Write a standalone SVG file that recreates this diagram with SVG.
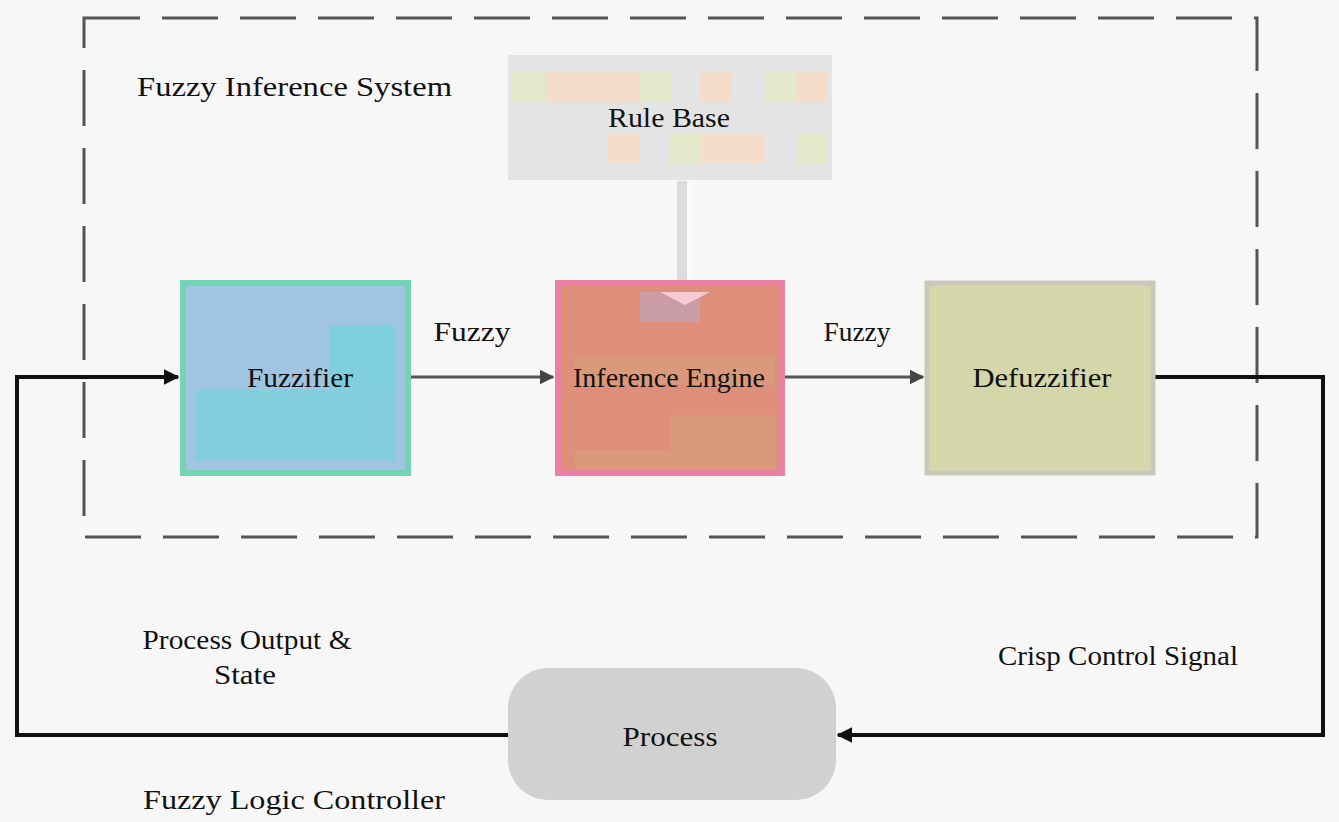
<svg xmlns="http://www.w3.org/2000/svg" width="1339" height="822" viewBox="0 0 1339 822">
<defs>
<style>
.t{font-family:"Liberation Serif","Times New Roman",serif;font-size:28px;fill:#111}
.c{text-anchor:middle}
.gl{fill:none;stroke:#555;stroke-width:3}
.bl{fill:none;stroke:#111;stroke-width:4}
</style>
<marker id="ag" viewBox="0 0 10 10" refX="9" refY="5" markerWidth="5" markerHeight="5" orient="auto" markerUnits="strokeWidth">
<path d="M0,0 L10,5 L0,10 z" fill="#444"/>
</marker>
<marker id="ab" viewBox="0 0 10 10" refX="9" refY="5" markerWidth="4" markerHeight="4" orient="auto" markerUnits="strokeWidth">
<path d="M0,0 L10,5 L0,10 z" fill="#111"/>
</marker>
</defs>
<rect width="1339" height="822" fill="#f7f7f7"/>

<g id="fis-boundary">
<rect x="84" y="18" width="1173" height="519" fill="none" stroke="#555" stroke-width="3" stroke-dasharray="56 22"/>
<text class="t" x="137" y="96" textLength="315" lengthAdjust="spacingAndGlyphs">Fuzzy Inference System</text>
</g>

<g id="connectors">
<line x1="685" y1="181" x2="685" y2="290" stroke="#dcdcdc" stroke-width="16"/>
<line x1="690" y1="181" x2="690" y2="290" stroke="#fafafa" stroke-width="6"/>
<path class="gl" d="M410,377 H553" marker-end="url(#ag)"/>
<path class="gl" d="M785,377 H923" marker-end="url(#ag)"/>
<path class="bl" d="M1155,377 H1323 V735 H838" marker-end="url(#ab)"/>
<path class="bl" d="M508,735 H17 V377 H178" marker-end="url(#ab)"/>
</g>

<g id="rule-base">
<rect x="508" y="55" width="324" height="125" fill="#e4e4e4"/>
<rect x="512" y="72" width="33" height="30" fill="#e3eac6" opacity="0.8"/>
<rect x="545" y="72" width="95" height="30" fill="#fbdcc0" opacity="0.7"/>
<rect x="640" y="72" width="32" height="30" fill="#e3eac6" opacity="0.8"/>
<rect x="700" y="72" width="32" height="30" fill="#fbdcc0" opacity="0.7"/>
<rect x="765" y="72" width="32" height="30" fill="#e3eac6" opacity="0.8"/>
<rect x="797" y="72" width="30" height="30" fill="#fbdcc0" opacity="0.7"/>
<rect x="607" y="133" width="33" height="30" fill="#fbdcc0" opacity="0.7"/>
<rect x="670" y="133" width="32" height="30" fill="#e3eac6" opacity="0.8"/>
<rect x="702" y="133" width="63" height="30" fill="#fbdcc0" opacity="0.7"/>
<rect x="797" y="133" width="30" height="30" fill="#e3eac6" opacity="0.8"/>
<text class="t c" x="669" y="127" textLength="122" lengthAdjust="spacingAndGlyphs">Rule Base</text>
</g>

<g id="fuzzifier">
<rect x="183" y="283" width="225" height="190" fill="#9fc5e2" stroke="#74d3b2" stroke-width="6"/>
<rect x="330" y="325" width="65" height="70" fill="#7fcfdc"/>
<rect x="195" y="390" width="200" height="70" fill="#82cedd"/>
<text class="t c" x="300" y="387" textLength="106" lengthAdjust="spacingAndGlyphs">Fuzzifier</text>
</g>

<g id="inference-engine">
<rect x="558" y="283" width="224" height="190" fill="#e08e7c" stroke="#e97fa2" stroke-width="6"/>
<rect x="640" y="292" width="60" height="30" fill="#c99ca8"/>
<path d="M660,292 L710,292 L685,305 z" fill="#f7cbd6"/>
<rect x="575" y="355" width="200" height="30" fill="#d6a07a" opacity="0.6"/>
<rect x="670" y="415" width="106" height="55" fill="#d6a07a" opacity="0.6"/>
<rect x="575" y="450" width="95" height="20" fill="#d6a07a" opacity="0.6"/>
<text class="t c" x="669" y="387" textLength="192" lengthAdjust="spacingAndGlyphs">Inference Engine</text>
</g>

<g id="defuzzifier">
<rect x="927" y="283" width="226" height="190" fill="#d4d7a9" stroke="#c9c9bb" stroke-width="5"/>
<text class="t c" x="1042" y="387" textLength="139" lengthAdjust="spacingAndGlyphs">Defuzzifier</text>
</g>

<g id="process">
<rect x="508" y="668" width="328" height="132" rx="40" fill="#d1d1d1"/>
<text class="t c" x="670" y="746" textLength="95" lengthAdjust="spacingAndGlyphs">Process</text>
</g>

<g id="labels">
<text class="t c" x="472" y="341" textLength="77" lengthAdjust="spacingAndGlyphs">Fuzzy</text>
<text class="t c" x="857" y="341" textLength="67" lengthAdjust="spacingAndGlyphs">Fuzzy</text>
<text class="t c" x="247" y="649" textLength="209" lengthAdjust="spacingAndGlyphs">Process Output &amp;</text>
<text class="t c" x="245" y="684" textLength="62" lengthAdjust="spacingAndGlyphs">State</text>
<text class="t" x="998" y="665" textLength="240" lengthAdjust="spacingAndGlyphs">Crisp Control Signal</text>
<text class="t" x="143" y="809" textLength="302" lengthAdjust="spacingAndGlyphs">Fuzzy Logic Controller</text>
</g>
</svg>
